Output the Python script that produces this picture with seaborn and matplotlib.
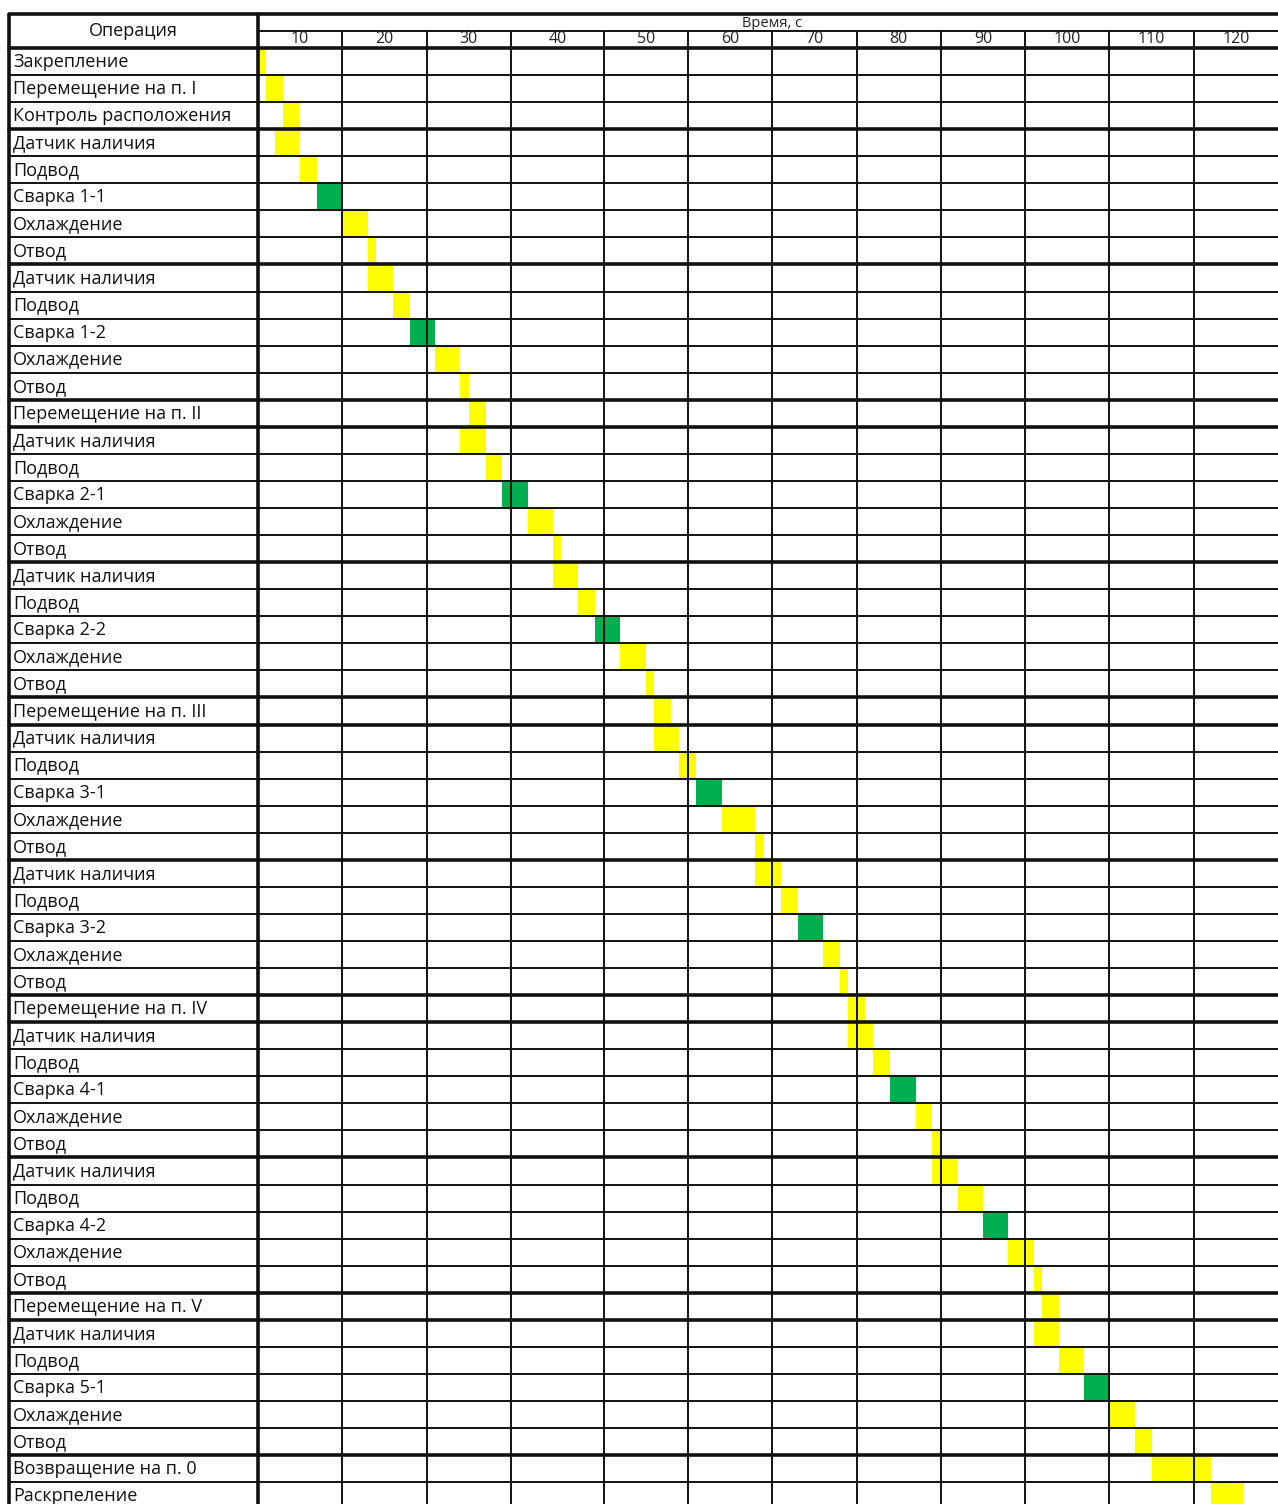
"""
Циклограмма сварочной операции: таблица-диаграмма Ганта (по 1 с на ячейку).
"""

import matplotlib
matplotlib.use('Agg')
import matplotlib.pyplot as plt
from matplotlib.colors import ListedColormap
import seaborn as sns
import numpy as np

sns.set_theme(style='white')
plt.rcParams['font.family'] = ['Open Sans', 'DejaVu Sans']

# --- data -----------------------------------------------------------------
operations = [
    'Закрепление', 'Перемещение на п. I', 'Контроль расположения',
    'Датчик наличия', 'Подвод', 'Сварка 1-1', 'Охлаждение', 'Отвод',
    'Датчик наличия', 'Подвод', 'Сварка 1-2', 'Охлаждение', 'Отвод',
    'Перемещение на п. II',
    'Датчик наличия', 'Подвод', 'Сварка 2-1', 'Охлаждение', 'Отвод',
    'Датчик наличия', 'Подвод', 'Сварка 2-2', 'Охлаждение', 'Отвод',
    'Перемещение на п. III',
    'Датчик наличия', 'Подвод', 'Сварка 3-1', 'Охлаждение', 'Отвод',
    'Датчик наличия', 'Подвод', 'Сварка 3-2', 'Охлаждение', 'Отвод',
    'Перемещение на п. IV',
    'Датчик наличия', 'Подвод', 'Сварка 4-1', 'Охлаждение', 'Отвод',
    'Датчик наличия', 'Подвод', 'Сварка 4-2', 'Охлаждение', 'Отвод',
    'Перемещение на п. V',
    'Датчик наличия', 'Подвод', 'Сварка 5-1', 'Охлаждение', 'Отвод',
    'Возвращение на п. 0', 'Раскрпеление',
]

# start time and duration, seconds
start = [0, 1, 3, 2, 5, 7, 10, 13, 13, 16, 18, 21, 24, 25,
         24, 27, 29, 32, 35, 35, 38, 40, 43, 46, 47,
         47, 50, 52, 55, 59, 59, 62, 64, 67, 69, 70,
         70, 73, 75, 78, 80, 80, 83, 86, 89, 92, 93,
         92, 95, 98, 101, 104, 106, 113]
duration = [1, 2, 2, 3, 2, 3, 3, 1, 3, 2, 3, 3, 1, 2,
            3, 2, 3, 3, 1, 3, 2, 3, 3, 1, 2,
            3, 2, 3, 4, 1, 3, 2, 3, 2, 1, 2,
            3, 2, 3, 2, 1, 3, 3, 3, 3, 1, 2,
            3, 3, 3, 3, 2, 7, 4]

# column groups of the time scale (seconds) and their captions
group_edges = [0, 10, 20, 30, 41, 51, 61, 71, 81, 91, 101, 111, 121]
group_labels = ['10', '20', '30', '40', '50', '60', '70', '80',
                '90', '100', '110', '120']

# rows that start a new block (thick line above them)
section_breaks = [3, 8, 13, 14, 19, 24, 25, 30, 35, 36, 41, 46, 47, 52]

# --- cell matrix: 0 empty, 1 yellow (operation), 2 green (welding) ---------
n_rows = len(operations)
n_cols = group_edges[-1]
grid = np.zeros((n_rows, n_cols))
for i, (s, d) in enumerate(zip(start, duration)):
    grid[i, s:s + d] = 2 if operations[i].startswith('Сварка') else 1

cmap = ListedColormap(['white', '#FFFF00', '#00B050'])

# --- layout (pixels) ---------------------------------------------------------
W, H = 1278, 1504
row_px = 27.06
top_px, head_px = 14, 48
left_px, split_px = 9, 258
bottom_px = head_px + n_rows * row_px
head_rows = (head_px - top_px) / row_px
sub_row = -(head_px - 31) / row_px

fig = plt.figure(figsize=(W / 100, H / 100), dpi=100)
ax_hm = fig.add_axes([split_px / W, 1 - bottom_px / H,
                      (W - split_px) / W, (bottom_px - top_px) / H])
ax_lab = fig.add_axes([left_px / W, 1 - bottom_px / H,
                       (split_px - left_px) / W, (bottom_px - top_px) / H])

sns.heatmap(grid, ax=ax_hm, cmap=cmap, vmin=0, vmax=2, cbar=False,
            xticklabels=False, yticklabels=False)
ax_hm.set_xlim(0, n_cols)
ax_hm.set_ylim(n_rows, -head_rows)
ax_lab.set_xlim(0, 1)
ax_lab.set_ylim(n_rows, -head_rows)
for ax in (ax_hm, ax_lab):
    ax.axis('off')

line_c = '#111111'
thin, thick = 1.4, 2.6

# horizontal row borders
for r in range(1, n_rows + 1):
    lw = thick if r in section_breaks else thin
    for ax in (ax_hm, ax_lab):
        ax.axhline(r, color=line_c, lw=lw, zorder=3, clip_on=False)
for ax in (ax_hm, ax_lab):
    ax.axhline(0, color=line_c, lw=thick, zorder=3, clip_on=False)
    ax.axhline(-head_rows, color=line_c, lw=thick, zorder=3, clip_on=False)

# header sub-row with the time scale
ax_hm.axhline(sub_row, color=line_c, lw=thin, zorder=3)
ax_hm.vlines(group_edges[1:-1], sub_row, n_rows, color=line_c, lw=thin, zorder=3)
ax_hm.vlines(0, -head_rows, n_rows, color=line_c, lw=thick, zorder=4, clip_on=False)
ax_lab.vlines(0, -head_rows, n_rows, color=line_c, lw=thick, zorder=4, clip_on=False)

for lo, hi, lab in zip(group_edges[:-1], group_edges[1:], group_labels):
    ax_hm.text((lo + hi) / 2, sub_row / 2 - 0.02, lab, ha='center', va='center',
               fontsize=11.5, color='#222222')
ax_hm.text(61, (sub_row - head_rows) / 2 + 0.05, 'Время, с', ha='center',
           va='center', fontsize=10.5, color='#222222')

# operation column
ax_lab.text(0.5, -head_rows / 2, 'Операция', ha='center', va='center',
            fontsize=13, color='#111111')
for i, name in enumerate(operations):
    ax_lab.text(0.016, i + 0.52, name, ha='left', va='center',
                fontsize=13, color='#111111')

fig.savefig('out.png', dpi=100)
